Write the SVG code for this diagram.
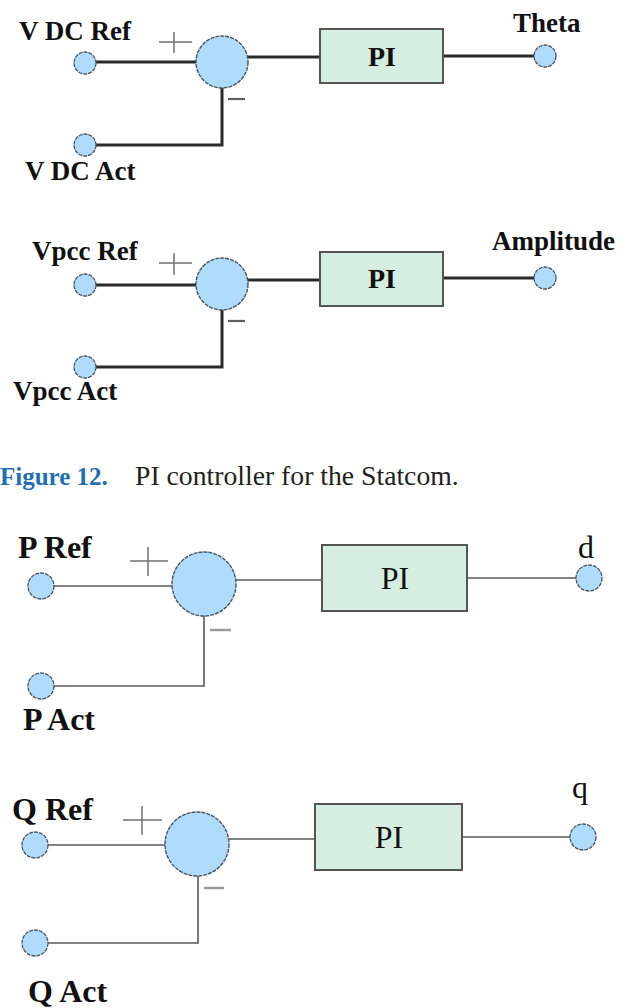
<svg xmlns="http://www.w3.org/2000/svg" width="631" height="1008" viewBox="0 0 631 1008">
<style>
.bg{fill:#ffffff}
.term{fill:#aedcfa;stroke:#46535f;stroke-width:1.3;stroke-dasharray:4 1}
.sum{fill:#aedcfa;stroke:#46535f;stroke-width:1.4;stroke-dasharray:4 1}
.pi{fill:#d6eee2;stroke:#555555;stroke-width:2}
.thick{fill:none;stroke:#2a2a2a;stroke-width:3}
.thin{fill:none;stroke:#5a5a5a;stroke-width:1.6}
.sign{fill:none;stroke:#707070;stroke-width:1.5}
.minus{fill:none;stroke:#606060;stroke-width:2.2}
.minus2{fill:none;stroke:#9a9a9a;stroke-width:2.5}
.lblB{font-family:"Liberation Serif",serif;font-weight:bold;font-size:27px;fill:#111111}
.lblPI{font-family:"Liberation Serif",serif;font-weight:bold;font-size:28px;fill:#111111}
.lblB2{font-family:"Liberation Serif",serif;font-weight:bold;font-size:32px;fill:#111111}
.lblR{font-family:"Liberation Serif",serif;font-size:32px;fill:#111111}
.cap{font-family:"Liberation Serif",serif;font-size:27.7px;fill:#231f20}
.capB{font-family:"Liberation Serif",serif;font-weight:bold;font-size:25px;fill:#1f6fb2}
</style>
<rect class="bg" x="0" y="0" width="631" height="1008"/>

<g id="connectors">
  <!-- diagram 1 -->
  <line class="thick" x1="96" y1="62" x2="196" y2="62"/>
  <polyline class="thick" points="222,88 222,145 96,145"/>
  <line class="thick" x1="248" y1="57" x2="320" y2="57"/>
  <line class="thick" x1="443" y1="56" x2="534" y2="56"/>
  <!-- diagram 2 -->
  <line class="thick" x1="96" y1="285" x2="196" y2="285"/>
  <polyline class="thick" points="222,310 222,367 96,367"/>
  <line class="thick" x1="248" y1="280" x2="320" y2="280"/>
  <line class="thick" x1="443" y1="278" x2="534" y2="278"/>
  <!-- diagram 3 -->
  <line class="thin" x1="54" y1="586" x2="172" y2="586"/>
  <polyline class="thin" points="204,616 204,686 54,686"/>
  <line class="thin" x1="236" y1="580" x2="322" y2="580"/>
  <line class="thin" x1="467" y1="578" x2="576" y2="578"/>
  <!-- diagram 4 -->
  <line class="thin" x1="48" y1="845" x2="165" y2="845"/>
  <polyline class="thin" points="198,876 198,943 48,943"/>
  <line class="thin" x1="229" y1="839" x2="315" y2="839"/>
  <line class="thin" x1="462" y1="837" x2="570" y2="837"/>
</g>

<!-- Diagram 1 -->
<g id="vdc-ref">
  <circle class="term" cx="85" cy="63" r="11"/>
  <text class="lblB" x="19" y="40">V DC Ref</text>
</g>
<g id="vdc-act">
  <circle class="term" cx="85" cy="145" r="11"/>
  <text class="lblB" x="25" y="180">V DC Act</text>
</g>
<g id="sum1">
  <circle class="sum" cx="222" cy="62" r="26"/>
  <line class="sign" x1="159" y1="42" x2="192" y2="42"/>
  <line class="sign" x1="174" y1="32" x2="174" y2="53"/>
  <line class="minus" x1="228" y1="99" x2="245" y2="99"/>
</g>
<g id="pi1">
  <rect class="pi" x="320" y="29" width="123" height="54"/>
  <text class="lblPI" x="382" y="66" text-anchor="middle">PI</text>
</g>
<g id="theta">
  <circle class="term" cx="545" cy="56" r="11"/>
  <text class="lblB" x="513" y="32">Theta</text>
</g>

<!-- Diagram 2 -->
<g id="vpcc-ref">
  <circle class="term" cx="85" cy="285" r="11"/>
  <text class="lblB" x="32" y="260">Vpcc Ref</text>
</g>
<g id="vpcc-act">
  <circle class="term" cx="85" cy="367" r="11"/>
  <text class="lblB" x="13" y="400">Vpcc Act</text>
</g>
<g id="sum2">
  <circle class="sum" cx="222" cy="284" r="26"/>
  <line class="sign" x1="159" y1="263" x2="192" y2="263"/>
  <line class="sign" x1="174" y1="253" x2="174" y2="275"/>
  <line class="minus" x1="228" y1="321" x2="245" y2="321"/>
</g>
<g id="pi2">
  <rect class="pi" x="320" y="252" width="123" height="54"/>
  <text class="lblPI" x="382" y="288" text-anchor="middle">PI</text>
</g>
<g id="amplitude">
  <circle class="term" cx="545" cy="278" r="11"/>
  <text class="lblB" x="492" y="250">Amplitude</text>
</g>

<!-- Caption -->
<g id="caption">
  <text class="capB" x="0" y="485">Figure 12.</text>
  <text class="cap" x="135" y="485">PI controller for the Statcom.</text>
</g>

<!-- Diagram 3 -->
<g id="p-ref">
  <circle class="term" cx="41" cy="586" r="13"/>
  <text class="lblB2" x="18" y="558">P Ref</text>
</g>
<g id="p-act">
  <circle class="term" cx="41" cy="686" r="13"/>
  <text class="lblB2" x="23" y="730">P Act</text>
</g>
<g id="sum3">
  <circle class="sum" cx="204" cy="584" r="32"/>
  <line class="sign" x1="130" y1="561" x2="168" y2="561"/>
  <line class="sign" x1="148" y1="547" x2="148" y2="576"/>
  <line class="minus2" x1="210" y1="630" x2="231" y2="630"/>
</g>
<g id="pi3">
  <rect class="pi" x="322" y="545" width="145" height="66"/>
  <text class="lblR" x="395" y="589" text-anchor="middle">PI</text>
</g>
<g id="d-out">
  <circle class="term" cx="589" cy="578" r="13"/>
  <text class="lblR" x="586" y="558" text-anchor="middle">d</text>
</g>

<!-- Diagram 4 -->
<g id="q-ref">
  <circle class="term" cx="35" cy="845" r="13"/>
  <text class="lblB2" x="12" y="820">Q Ref</text>
</g>
<g id="q-act">
  <circle class="term" cx="35" cy="943" r="13"/>
  <text class="lblB2" x="28" y="1002">Q Act</text>
</g>
<g id="sum4">
  <circle class="sum" cx="197" cy="844" r="32"/>
  <line class="sign" x1="123" y1="820" x2="162" y2="820"/>
  <line class="sign" x1="142" y1="806" x2="142" y2="835"/>
  <line class="minus2" x1="204" y1="888" x2="224" y2="888"/>
</g>
<g id="pi4">
  <rect class="pi" x="315" y="804" width="147" height="66"/>
  <text class="lblR" x="389" y="848" text-anchor="middle">PI</text>
</g>
<g id="q-out">
  <circle class="term" cx="583" cy="837" r="13"/>
  <text class="lblR" x="580" y="798" text-anchor="middle">q</text>
</g>
</svg>
